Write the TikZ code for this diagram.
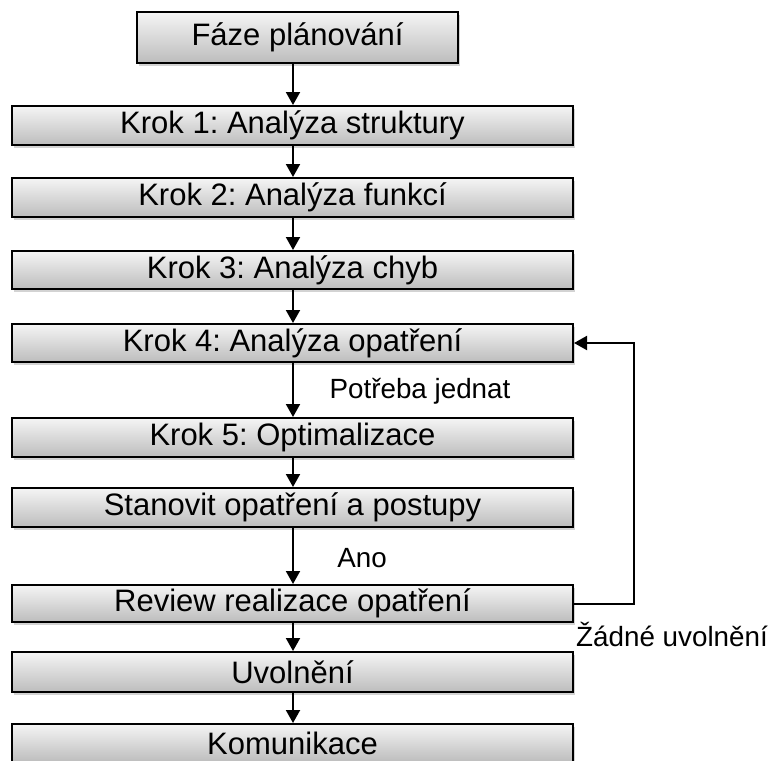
\documentclass[tikz,border=0pt]{standalone}
\usepackage{fontspec}
\setmainfont{Liberation Sans}
\frenchspacing
\usetikzlibrary{arrows.meta,shadows}
\tikzset{
  boxid/.style={rectangle, draw, line width=2pt, inner sep=0pt,
    top color=white!96!black, bottom color=black!26,
    drop shadow={shadow xshift=2pt, shadow yshift=-3pt, opacity=0.35},
    font=\fontsize{31}{31}\selectfont},
  lblid/.style={inner sep=0pt, font=\fontsize{27.8}{27.8}\selectfont},
  arrid/.style={line width=2pt, -{Triangle[length=13pt,width=14pt]}}
}
\begin{document}
\begin{tikzpicture}[x=1pt,y=-1pt]
\useasboundingbox (0,0) rectangle (768,760);
\node[boxid, minimum width=321, minimum height=51] (bid0) at (297.5,37.5){Fáze plánování};
\node[boxid, minimum width=561, minimum height=39] (bid1) at (292.5,125.5){Krok 1: Analýza struktury};
\node[boxid, minimum width=561, minimum height=39] (bid2) at (292.5,197.5){Krok 2: Analýza funkcí};
\node[boxid, minimum width=561, minimum height=38] (bid3) at (292.5,270){Krok 3: Analýza chyb};
\node[boxid, minimum width=561, minimum height=38] (bid4) at (292.5,343){Krok 4: Analýza opatření};
\node[boxid, minimum width=561, minimum height=39] (bid5) at (292.5,437.5){Krok 5: Optimalizace};
\node[boxid, minimum width=561, minimum height=39] (bid6) at (292.5,507.5){Stanovit opatření a postupy};
\node[boxid, minimum width=561, minimum height=37] (bid7) at (292.5,603.5){Review realizace opatření};
\node[boxid, minimum width=561, minimum height=40] (bid8) at (292.5,672){Uvolnění};
\node[boxid, minimum width=561, minimum height=38] (bid9) at (292.5,743){Komunikace};
\node[lblid] (lid0) at (420,391){Potřeba jednat};
\node[lblid] (lid1) at (362,558){Ano};
\node[lblid] (lid2) at (672,634){Žádné uvolnění};
\coordinate (cid0) at (634,0);
\draw[arrid](bid0.south -| 293,0) -- (bid1.north -| 293,0);
\draw[arrid](bid1.south -| 293,0) -- (bid2.north -| 293,0);
\draw[arrid](bid2.south -| 293,0) -- (bid3.north -| 293,0);
\draw[arrid](bid3.south -| 293,0) -- (bid4.north -| 293,0);
\draw[arrid](bid4.south -| 293,0) -- (bid5.north -| 293,0);
\draw[arrid](bid5.south -| 293,0) -- (bid6.north -| 293,0);
\draw[arrid](bid6.south -| 293,0) -- (bid7.north -| 293,0);
\draw[arrid](bid7.south -| 293,0) -- (bid8.north -| 293,0);
\draw[arrid](bid8.south -| 293,0) -- (bid9.north -| 293,0);
\draw[arrid](bid7.east) -- (bid7.east -| cid0) |- (bid4.east);
\end{tikzpicture}
\end{document}
